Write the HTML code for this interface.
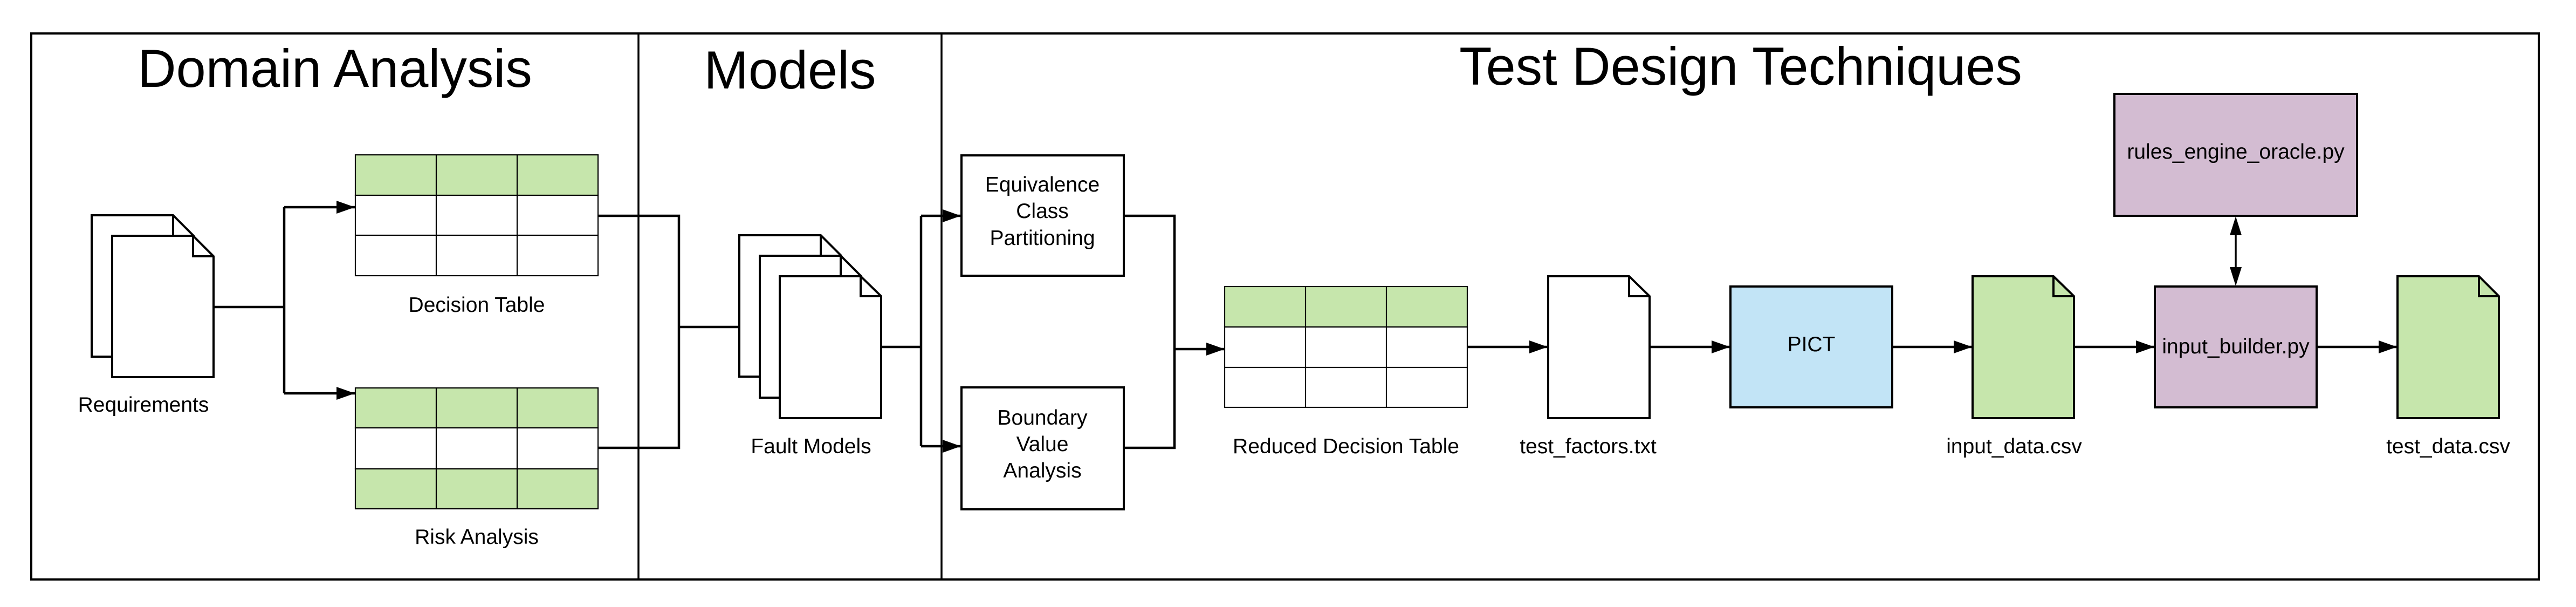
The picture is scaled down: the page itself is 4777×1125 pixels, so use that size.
<!DOCTYPE html>
<html><head><meta charset="utf-8"><style>
html,body{margin:0;padding:0;background:#fff;}
svg{display:block;}
text{font-family:"Liberation Sans",Arial,sans-serif;fill:#000;}
</style></head><body>
<svg width="4777" height="1125" viewBox="0 0 4777 1125" xmlns="http://www.w3.org/2000/svg">
<defs>
<marker id="ah" viewBox="0 0 34 24" refX="34" refY="12" markerWidth="34" markerHeight="24" markerUnits="userSpaceOnUse" orient="auto">
<path d="M0,0 L34,12 L0,24 Z" fill="#000"/></marker>
</defs>
<rect width="4777" height="1125" fill="#fff"/>
<!-- frame -->
<rect x="58" y="62" width="4650" height="1012" fill="none" stroke="#000" stroke-width="4"/>
<line x1="1184" y1="62" x2="1184" y2="1074" stroke="#000" stroke-width="3.5"/>
<line x1="1746" y1="62" x2="1746" y2="1074" stroke="#000" stroke-width="3.5"/>
<text x="621" y="161" font-size="99" text-anchor="middle">Domain Analysis</text>
<text x="1465" y="164" font-size="99" text-anchor="middle">Models</text>
<text x="3228" y="157" font-size="99" text-anchor="middle">Test Design Techniques</text>

<g fill="none" stroke="#000" stroke-width="4.5">
<!-- requirements to tables -->
<polyline points="396,569 527,569"/>
<polyline points="527,384 527,729"/>
<polyline points="527,384 658,384" marker-end="url(#ah)"/>
<polyline points="527,729 658,729" marker-end="url(#ah)"/>
<!-- tables to fault models -->
<polyline points="1109,400 1259,400 1259,830 1109,830"/>
<polyline points="1259,606 1408,606" marker-end="url(#ah)"/>
<!-- fault models to techniques -->
<polyline points="1634,643 1708,643"/>
<polyline points="1708,400 1708,827"/>
<polyline points="1708,400 1782,400" marker-end="url(#ah)"/>
<polyline points="1708,827 1782,827" marker-end="url(#ah)"/>
<!-- techniques to reduced table -->
<polyline points="2084,400 2178,400 2178,830 2084,830"/>
<polyline points="2178,647 2271,647" marker-end="url(#ah)"/>
<polyline points="2721,643 2870,643" marker-end="url(#ah)"/>
<polyline points="3059,643 3208,643" marker-end="url(#ah)"/>
<polyline points="3509,643 3657,643" marker-end="url(#ah)"/>
<polyline points="3846,643 3995,643" marker-end="url(#ah)"/>
<polyline points="4296,643 4445,643" marker-end="url(#ah)"/>
</g>
<!-- bidirectional -->
<line x1="4146" y1="430" x2="4146" y2="500" stroke="#000" stroke-width="3.5"/>
<path d="M4146,401 L4157,436 L4135,436 Z" fill="#000"/>
<path d="M4146,530 L4157,495 L4135,495 Z" fill="#000"/>

<!-- requirements docs -->
<g stroke="#000" stroke-width="4" fill="#fff" stroke-linejoin="miter">
<path d="M170,399 L321,399 L359,437 L359,661 L170,661 Z"/>
<path d="M321,399 L321,437 L359,437" fill="none"/>
<path d="M208,437 L358,437 L396,475 L396,699 L208,699 Z"/>
<path d="M358,437 L358,475 L396,475" fill="none"/>
<!-- fault models -->
<path d="M1371,436 L1522,436 L1560,474 L1560,698 L1371,698 Z"/>
<path d="M1522,436 L1522,474 L1560,474" fill="none"/>
<path d="M1409,474 L1559,474 L1597,512 L1597,737 L1409,737 Z"/>
<path d="M1559,474 L1559,512 L1597,512" fill="none"/>
<path d="M1446,512 L1596,512 L1634,549 L1634,775 L1446,775 Z"/>
<path d="M1596,512 L1596,549 L1634,549" fill="none"/>
<!-- test_factors -->
<path d="M2871,512 L3021,512 L3059,549 L3059,775 L2871,775 Z"/>
<path d="M3021,512 L3021,549 L3059,549" fill="none"/>
<!-- input_data -->
<path d="M3658,512 L3808,512 L3846,549 L3846,775 L3658,775 Z" fill="#c6e6ac"/>
<path d="M3808,512 L3808,549 L3846,549" fill="none"/>
<!-- test_data -->
<path d="M4446,512 L4597,512 L4634,549 L4634,775 L4446,775 Z" fill="#c6e6ac"/>
<path d="M4597,512 L4597,549 L4634,549" fill="none"/>
<!-- boxes -->
<rect x="1783" y="288" width="301" height="223"/>
<rect x="1783" y="718" width="301" height="226"/>
<rect x="3209" y="531" width="300" height="224" fill="#c2e4f6"/>
<rect x="3996" y="531" width="300" height="224" fill="#d3bcd2"/>
<rect x="3921" y="174" width="450" height="226" fill="#d3bcd2"/>
</g>

<!-- tables -->
<g stroke="#000" stroke-width="2.2">
<rect x="659" y="287" width="450" height="75" fill="#c6e6ac"/>
<rect x="659" y="362" width="450" height="149" fill="#fff"/>
<line x1="659" y1="436" x2="1109" y2="436"/>
<line x1="809" y1="287" x2="809" y2="511"/>
<line x1="959" y1="287" x2="959" y2="511"/>

<rect x="659" y="719" width="450" height="74" fill="#c6e6ac"/>
<rect x="659" y="793" width="450" height="76" fill="#fff"/>
<rect x="659" y="869" width="450" height="74" fill="#c6e6ac"/>
<line x1="809" y1="719" x2="809" y2="943"/>
<line x1="959" y1="719" x2="959" y2="943"/>

<rect x="2271" y="531" width="450" height="75" fill="#c6e6ac"/>
<rect x="2271" y="606" width="450" height="149" fill="#fff"/>
<line x1="2271" y1="681" x2="2721" y2="681"/>
<line x1="2421" y1="531" x2="2421" y2="755"/>
<line x1="2571" y1="531" x2="2571" y2="755"/>
</g>

<!-- labels -->
<g font-size="39" text-anchor="middle">
<text x="266" y="763">Requirements</text>
<text x="884" y="578">Decision Table</text>
<text x="884" y="1008">Risk Analysis</text>
<text x="1504" y="840">Fault Models</text>
<text x="1933" y="355">Equivalence</text>
<text x="1933" y="404">Class</text>
<text x="1933" y="454">Partitioning</text>
<text x="1933" y="787">Boundary</text>
<text x="1933" y="836">Value</text>
<text x="1933" y="885">Analysis</text>
<text x="2496" y="840">Reduced Decision Table</text>
<text x="2945" y="840">test_factors.txt</text>
<text x="3359" y="651">PICT</text>
<text x="3735" y="840">input_data.csv</text>
<text x="4146" y="655">input_builder.py</text>
<text x="4146" y="294">rules_engine_oracle.py</text>
<text x="4540" y="840">test_data.csv</text>
</g>
</svg>
</body></html>
